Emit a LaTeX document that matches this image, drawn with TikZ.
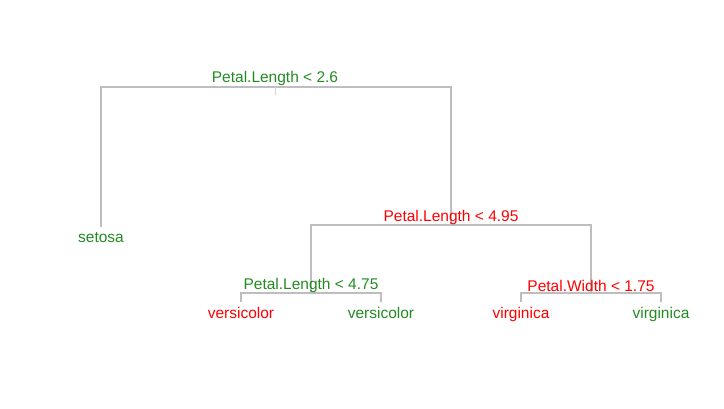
\documentclass[tikz,border=0pt]{standalone}
\usepackage{fontspec}
\setmainfont{Liberation Sans}
\usetikzlibrary{positioning}
\definecolor{treeGreen}{HTML}{228B22}
\definecolor{treeRed}{HTML}{FF0000}
\definecolor{treeGray}{HTML}{BEBEBE}
\definecolor{stemGray}{HTML}{D3D3D3}

\begin{document}
\begin{tikzpicture}[
    x=1pt, y=-1pt,
    branch/.style={draw=treeGray, line width=1.3pt},
    stem/.style={draw=stemGray, line width=1pt},
    lbl/.style={anchor=base, inner sep=0pt, font=\fontsize{15.5}{18}\selectfont},
    good/.style={lbl, text=treeGreen},
    bad/.style={lbl, text=treeRed},
  ]
    \useasboundingbox (0,0) rectangle (724,409);

    % split points
    \coordinate (b1) at (275,87);
    \coordinate (b2) at (451,225);
    \coordinate (b3) at (311,293);
    \coordinate (b4) at (591,293);
    % leaf tops
    \coordinate (t1) at (101,227);
    \coordinate (t2) at (241,302);
    \coordinate (t3) at (381,302);
    \coordinate (t4) at (521,302);
    \coordinate (t5) at (661,302);

    \draw[branch] (t1) |- (b1) -| (b2);
    \draw[branch] (b3) |- (b2) -| (b4);
    \draw[branch] (t2) |- (b3) -| (t3);
    \draw[branch] (t4) |- (b4) -| (t5);
    \draw[stem] (b1) -- ++(0,8);

    % split labels
    \node[good] (s1) at (275,82.5) {Petal.Length < 2.6};
    \node[bad]  (s2) at (451,221.5) {Petal.Length < 4.95};
    \node[good] (s3) at (311,290) {Petal.Length < 4.75};
    \node[bad]  (s4) at (591,292) {Petal.Width < 1.75};

    % leaves
    \node[good] (setosa) at (101,242.3) {setosa};
    \node[bad]  (vers1) at (241,318.3) {versicolor};
    \node[good] (vers2) at (381,318.3) {versicolor};
    \node[bad]  (virg1) at (521,318.3) {virginica};
    \node[good] (virg2) at (661,318.3) {virginica};
  \end{tikzpicture}
\end{document}
